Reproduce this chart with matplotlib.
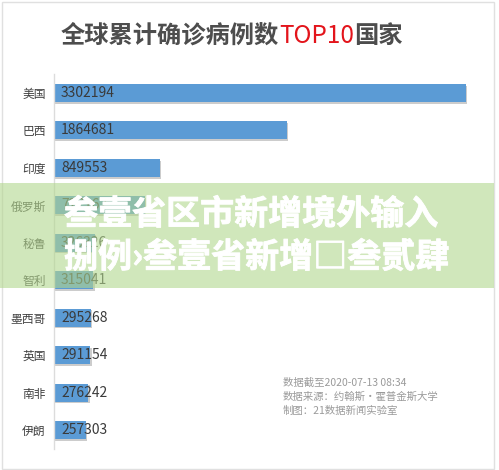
import matplotlib
matplotlib.use('Agg')
import matplotlib.pyplot as plt
import matplotlib.patheffects as pe
from matplotlib.patches import Rectangle

plt.rcParams['font.family'] = ['Noto Sans CJK SC', 'DejaVu Sans']

countries = ['美国', '巴西', '印度', '俄罗斯', '秘鲁', '智利', '墨西哥', '英国', '南非', '伊朗']
cases = [3302194, 1864681, 849553, 727162, 326326, 315041, 295268, 291154, 276242, 257303]

title_grey = '全球累计确诊病例数'
title_red = 'TOP10'
title_end = '国家'
notes = ['数据截至2020-07-13 08:34', '数据来源：约翰斯·霍普金斯大学', '制图：21数据新闻实验室']
banner_lines = ['叁壹省区市新增境外输入', '捌例›叁壹省新增□叁贰肆']

W, H = 499, 470
fig = plt.figure(figsize=(W / 100, H / 100), dpi=100)
fig.patch.set_facecolor('white')

# axes placed in pixel terms
x0, x1 = 54, 480
y_top, y_bot = 74.3, 448.7
ax = fig.add_axes([x0 / W, 1 - y_bot / H, (x1 - x0) / W, (y_bot - y_top) / H])
xmax = cases[0] * (x1 - x0) / (466 - x0)

bars = ax.barh(range(len(countries)), cases, height=0.48, color='#5b9bd5', zorder=2)
for b in bars:
    b.set_path_effects([pe.SimplePatchShadow(offset=(1, -1.2), shadow_rgbFace='#9a9a9a', alpha=0.5),
                        pe.Normal()])
for i, v in enumerate(cases):
    ax.annotate(str(v), (0, i), xytext=(5, 0), textcoords='offset points',
                va='center', ha='left', fontsize=10, color='#3a3a3a', zorder=3)

ax.set_xlim(0, xmax)
ax.set_ylim(len(countries) - 0.5, -0.5)
ax.set_yticks(range(len(countries)))
ax.set_yticklabels(countries, fontsize=8.5, color='#404040')
ax.tick_params(axis='y', length=0, pad=6)
ax.set_xticks([])
for s in ['top', 'right', 'bottom']:
    ax.spines[s].set_visible(False)
ax.spines['left'].set_color('#dcdcdc')
ax.spines['left'].set_linewidth(1)

# outer frame
fig.add_artist(Rectangle((1.5 / W, 1 - 468.5 / H), 492 / W, 467 / H, transform=fig.transFigure,
                         fill=False, edgecolor='#e0e0e0', linewidth=1, zorder=1))

# title in three colours
fig.canvas.draw()
r = fig.canvas.get_renderer()
tx = 61 / W
ty = 1 - 36 / H
for txt, col, wt in [(title_grey, '#4d4d4d', 'bold'), (title_red, '#e3141b', 'medium'),
                     (title_end, '#4d4d4d', 'bold')]:
    t = fig.text(tx, ty, txt, fontsize=17.5, fontweight=wt, color=col, va='center', ha='left')
    bb = t.get_window_extent(renderer=r)
    tx += bb.width / W

for k, line in enumerate(notes):
    fig.text(283 / W, 1 - (383 + 14 * k) / H, line, fontsize=7.5, color='#9a9a9a', va='center', ha='left')

# overlay banner
fig.add_artist(Rectangle((0, 1 - 288 / H), 494 / W, 105 / H, transform=fig.transFigure,
                         facecolor='#b2d78e', alpha=0.6, edgecolor='none', zorder=5))
for k, line in enumerate(banner_lines):
    fig.text(64 / W, 1 - (214 + 43 * k) / H, line, fontsize=24.5, fontweight='heavy', color='white',
             va='center', ha='left', zorder=6,
             path_effects=[pe.withStroke(linewidth=0.6, foreground='white')])

fig.savefig('out.png', dpi=100)
